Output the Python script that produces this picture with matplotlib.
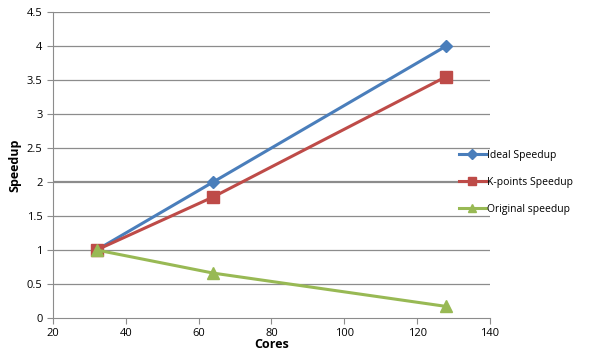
import matplotlib
matplotlib.use("Agg")
import matplotlib.pyplot as plt

cores = [32, 64, 128]
ideal = [1, 2, 4]
kpoints = [1, 1.78, 3.55]
original = [1, 0.66, 0.17]
xticks = [20, 40, 60, 80, 100, 120, 140]
yticks = [0, 0.5, 1, 1.5, 2, 2.5, 3, 3.5, 4, 4.5]

plt.rcParams['font.family'] = ['Open Sans', 'DejaVu Sans']
fig = plt.figure(figsize=(5.95, 3.63), dpi=100)
ax = fig.add_axes([0.089, 0.124, 0.7345, 0.843])

for y in yticks[1:]:
    ax.axhline(y, color='#8c8c8c', lw=1.6 if y == 2 else 0.9, zorder=0)

l1, = ax.plot(cores, ideal, color='#4a7ebb', lw=2.2, marker='D', ms=6, label='Ideal Speedup')
l2, = ax.plot(cores, kpoints, color='#be4b48', lw=2.2, marker='s', ms=8, label='K-points Speedup')
l3, = ax.plot(cores, original, color='#98b954', lw=2.2, marker='^', ms=8, label='Original speedup')

ax.set_xlim(20, 140)
ax.set_ylim(0, 4.5)
ax.set_xticks(xticks)
ax.set_yticks(yticks)
ax.set_xticklabels([str(v) for v in xticks])
ax.set_yticklabels([f"{v:g}" for v in yticks])
for s in ['top', 'right']:
    ax.spines[s].set_visible(False)
for s in ['left', 'bottom']:
    ax.spines[s].set_color('#8c8c8c')
ax.tick_params(axis='both', colors='#8c8c8c', labelcolor='black', labelsize=8, length=4, direction='out')
ax.set_xlabel('Cores', fontweight='bold', fontsize=9, labelpad=-1)
ax.set_ylabel('Speedup', fontweight='bold', fontsize=9, labelpad=4)

leg = fig.legend(handles=[l1, l2, l3], loc='center left', bbox_to_anchor=(0.755, 0.498),
                 frameon=False, fontsize=7.5, handlelength=2.6, handletextpad=0.1,
                 labelspacing=1.55, markerscale=0.8)
fig.savefig('out.png', dpi=100)
